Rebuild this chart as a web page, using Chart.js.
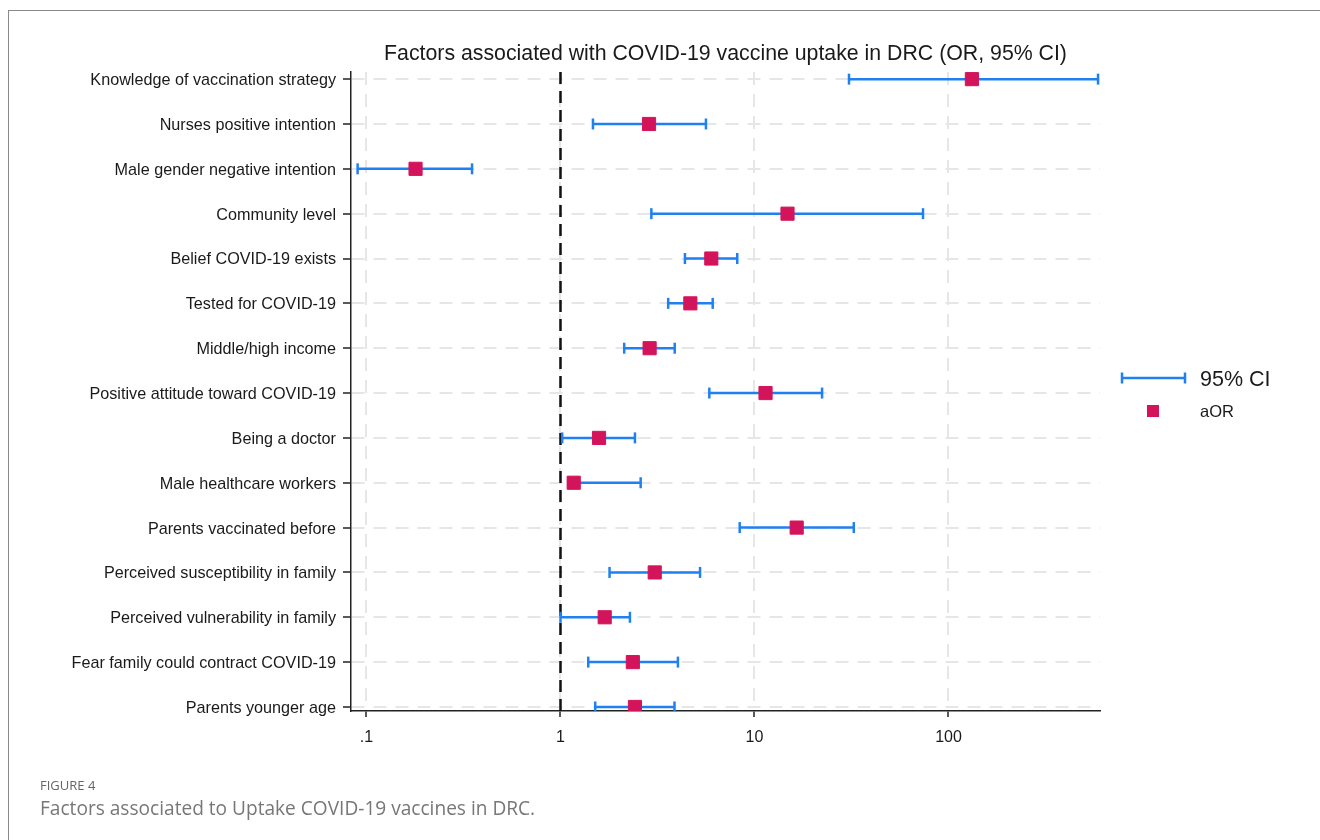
<!DOCTYPE html>
<html>
<head>
<meta charset="utf-8">
<title>Factors associated with COVID-19 vaccine uptake in DRC</title>
<script src="https://cdn.jsdelivr.net/npm/chart.js@4.4.1/dist/chart.umd.min.js"></script>
<style>
  html, body { margin: 0; padding: 0; background: #fff; }
  #wrap { position: relative; width: 1320px; height: 840px; overflow: hidden; }
  #frame { position: absolute; left: 8px; top: 10px; width: 1400px; height: 900px; border: 1.5px solid #8a8a8a; }
  #chart { position: absolute; left: 0; top: 0; }
  .fig-no { position: absolute; left: 40px; top: 776px; font-family: "Open Sans", sans-serif; font-size: 13px; line-height: 18px; color: #666; }
  .fig-cap { position: absolute; left: 40px; top: 796px; font-family: "Open Sans", sans-serif; font-size: 19.1px; line-height: 24px; color: #777; }
</style>
</head>
<body>
<div id="wrap">
  <div id="frame"></div>
  <canvas id="chart" width="1320" height="840"></canvas>
  <div class="fig-no">FIGURE 4</div>
  <div class="fig-cap">Factors associated to Uptake COVID-19 vaccines in DRC.</div>
</div>
<script>
// Factors, top to bottom
const factors = [
  "Knowledge of vaccination strategy",
  "Nurses positive intention",
  "Male gender negative intention",
  "Community level",
  "Belief COVID-19 exists",
  "Tested for COVID-19",
  "Middle/high income",
  "Positive attitude toward COVID-19",
  "Being a doctor",
  "Male healthcare workers",
  "Parents vaccinated before",
  "Perceived susceptibility in family",
  "Perceived vulnerability in family",
  "Fear family could contract COVID-19",
  "Parents younger age"
];

// Adjusted odds ratios and 95% CI bounds
const aor    = [132, 2.86, 0.179, 14.8, 5.99, 4.67, 2.88, 11.4, 1.58, 1.17, 16.5, 3.06, 1.69, 2.36, 2.42];
const ciLow  = [30.7, 1.47, 0.090, 2.94, 4.38, 3.59, 2.13, 5.85, 1.02, 1.10, 8.39, 1.79, 1.00, 1.39, 1.51];
const ciHigh = [590, 5.62, 0.35, 73.9, 8.15, 6.09, 3.88, 22.3, 2.42, 2.59, 32.5, 5.24, 2.28, 4.03, 3.87];

// Axis ticks
const xTicks = [0.1, 1, 10, 100];
const xTickLabels = [".1", "1", "10", "100"];

const X_MIN = 0.0832, X_MAX = 604;
const Y_MIN = -0.16, Y_MAX = 14.09;

const BLUE = "#1f80f2";
const RED = "#d4145a";
const GRID = "#e6e6e6";
const INK = "#1a1a1a";
const FONT = "'Liberation Sans', Arial, sans-serif";

// CI segments, broken by a null point between rows
const ciPoints = [];
ciLow.forEach((lo, i) => {
  ciPoints.push({ x: lo, y: i }, { x: ciHigh[i], y: i }, { x: null, y: null });
});

// Hand-drawn legend on the right
const legendPlugin = {
  id: "sideLegend",
  afterDraw(chart) {
    const ctx = chart.ctx;
    const x0 = chart.chartArea.right + 22;
    ctx.save();
    // 95% CI line with caps
    ctx.strokeStyle = BLUE;
    ctx.lineWidth = 2.5;
    ctx.beginPath();
    ctx.moveTo(x0, 378); ctx.lineTo(x0 + 63, 378);
    ctx.moveTo(x0, 372.5); ctx.lineTo(x0, 383.5);
    ctx.moveTo(x0 + 63, 372.5); ctx.lineTo(x0 + 63, 383.5);
    ctx.stroke();
    // aOR square
    ctx.fillStyle = RED;
    ctx.fillRect(x0 + 25, 405, 12, 12);
    ctx.fillStyle = INK;
    ctx.textBaseline = "middle";
    ctx.font = "21.5px " + FONT;
    ctx.fillText("95% CI", x0 + 78, 380);
    ctx.font = "16.5px " + FONT;
    ctx.fillText("aOR", x0 + 78, 412);
    ctx.restore();
  }
};

new Chart(document.getElementById("chart"), {
  type: "scatter",
  data: {
    datasets: [
      {
        label: "aOR",
        data: aor.map((v, i) => ({ x: v, y: i })),
        pointStyle: "rect",
        pointRadius: 9.3,
        pointHoverRadius: 9.3,
        backgroundColor: RED,
        borderColor: RED,
        borderWidth: 1,
        order: 0
      },
      {
        label: "95% CI",
        data: ciPoints,
        showLine: true,
        spanGaps: false,
        borderColor: BLUE,
        borderWidth: 2.5,
        pointStyle: "line",
        rotation: 90,
        pointRadius: 5.5,
        pointBorderWidth: 2.5,
        pointBorderColor: BLUE,
        order: 1
      },
      {
        label: "OR = 1",
        data: [{ x: 1, y: Y_MIN }, { x: 1, y: Y_MAX }],
        showLine: true,
        borderColor: "#111",
        borderWidth: 2.5,
        borderDash: [12, 7],
        pointRadius: 0,
        order: 2
      }
    ]
  },
  options: {
    responsive: false,
    animation: false,
    devicePixelRatio: 1,
    layout: { padding: { top: 30, right: 220, bottom: 89, left: 0 } },
    plugins: {
      legend: { display: false },
      tooltip: { enabled: false },
      title: {
        display: true,
        text: "Factors associated with COVID-19 vaccine uptake in DRC (OR, 95% CI)",
        fullSize: false,
        color: INK,
        font: { family: FONT, size: 21.3, weight: "normal" },
        padding: { top: 11, bottom: 5.4 }
      }
    },
    scales: {
      x: {
        type: "logarithmic",
        min: X_MIN,
        max: X_MAX,
        afterBuildTicks: s => { s.ticks = xTicks.map(v => ({ value: v })); },
        afterFit: s => { s.height = 40; },
        ticks: {
          autoSkip: false,
          maxRotation: 0,
          padding: 11,
          color: INK,
          font: { family: FONT, size: 16 },
          callback: v => xTickLabels[xTicks.indexOf(v)]
        },
        grid: { color: GRID, lineWidth: 2, tickColor: "#222", tickLength: 6, tickWidth: 1.5 },
        border: { display: true, color: "#222", width: 1.5, dash: [13, 9] }
      },
      y: {
        type: "linear",
        reverse: true,
        min: Y_MIN,
        max: Y_MAX,
        afterBuildTicks: s => { s.ticks = factors.map((f, i) => ({ value: i })); },
        afterFit: s => { s.width = 351; },
        ticks: {
          autoSkip: false,
          padding: 7,
          labelOffset: 1.5,
          color: INK,
          font: { family: FONT, size: 16.2 },
          callback: v => factors[v]
        },
        grid: { color: GRID, lineWidth: 2, tickColor: "#222", tickLength: 8, tickWidth: 1.5 },
        border: { display: true, color: "#222", width: 1.5, dash: [13, 9] }
      }
    }
  },
  plugins: [legendPlugin]
});
</script>
</body>
</html>
